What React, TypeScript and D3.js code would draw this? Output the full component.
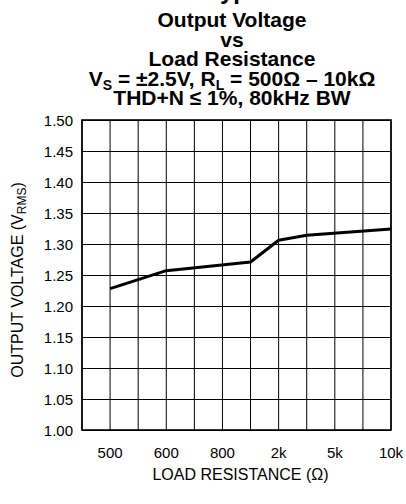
import React, { useEffect, useRef } from "react";
import * as d3 from "d3";

// x axis is a fixed slot grid (not truly log), labels only on some slots
const loadSlots = ["450", "500", "550", "600", "700", "800", "1k", "2k", "3k", "5k", "7k", "10k"];
const tickLabels = ["500", "600", "800", "2k", "5k", "10k"];
const yTicks = [1.0, 1.05, 1.1, 1.15, 1.2, 1.25, 1.3, 1.35, 1.4, 1.45, 1.5];

// measured curve
const loads = ["500", "600", "1k", "2k", "3k", "10k"];
const vout = [1.228, 1.257, 1.271, 1.306, 1.314, 1.324];

const W = 406;
const H = 504;
const margin = { top: 120, right: 15, bottom: 74, left: 82 };
const font = "'Liberation Sans', Arial, sans-serif";

const App = () => {
  const ref = useRef<SVGSVGElement>(null);

  useEffect(() => {
    if (!ref.current) return;
    const svg = d3.select(ref.current);
    svg.selectAll("*").remove();

    const x = d3
      .scalePoint<string>()
      .domain(loadSlots)
      .range([margin.left, W - margin.right]);
    const y = d3
      .scaleLinear()
      .domain([1.0, 1.5])
      .range([H - margin.bottom, margin.top]);

    const [x0, x1] = x.range();
    const [y0, y1] = y.range();

    // titles
    const title = svg
      .append("g")
      .attr("font-family", font)
      .attr("font-weight", "bold")
      .attr("text-anchor", "middle")
      .attr("font-size", 21);

    // page heading, mostly cut off by the top edge
    svg
      .append("text")
      .attr("x", 207)
      .attr("y", -1)
      .attr("font-family", font)
      .attr("font-weight", "bold")
      .attr("font-size", 24)
      .text("Typical Characteristics");

    const cx = 232;
    title.append("text").attr("x", cx).attr("y", 27).text("Output Voltage");
    title.append("text").attr("x", cx).attr("y", 46.5).text("vs");
    title.append("text").attr("x", cx).attr("y", 66).text("Load Resistance");
    const l4 = title.append("text").attr("x", cx).attr("y", 85.5);
    l4.append("tspan").text("V");
    l4.append("tspan").attr("font-size", 14).attr("dy", 4).text("S");
    l4.append("tspan").attr("dy", -4).text(" = ±2.5V, R");
    l4.append("tspan").attr("font-size", 14).attr("dy", 4).text("L");
    l4.append("tspan").attr("dy", -4).text(" = 500Ω – 10kΩ");
    title.append("text").attr("x", cx).attr("y", 105).text("THD+N ≤ 1%, 80kHz BW");

    // grid
    const grid = svg.append("g").attr("stroke", "#000").attr("stroke-width", 1);
    grid
      .selectAll("line.h")
      .data(yTicks)
      .join("line")
      .attr("class", "h")
      .attr("x1", x0)
      .attr("x2", x1)
      .attr("y1", (d) => Math.round(y(d)) + 0.5)
      .attr("y2", (d) => Math.round(y(d)) + 0.5);
    grid
      .selectAll("line.v")
      .data(loadSlots)
      .join("line")
      .attr("class", "v")
      .attr("x1", (d) => x(d)!)
      .attr("x2", (d) => x(d)!)
      .attr("y1", y1)
      .attr("y2", y0);

    svg
      .append("rect")
      .attr("x", x0)
      .attr("y", y1)
      .attr("width", x1 - x0)
      .attr("height", y0 - y1)
      .attr("fill", "none")
      .attr("stroke", "#000")
      .attr("stroke-width", 1.6);

    // tick labels
    svg
      .append("g")
      .attr("font-family", font)
      .attr("font-size", 15)
      .attr("text-anchor", "end")
      .selectAll("text")
      .data(yTicks)
      .join("text")
      .attr("x", x0 - 9)
      .attr("y", (d) => y(d) + 5.5)
      .text((d) => d3.format(".2f")(d));

    svg
      .append("g")
      .attr("font-family", font)
      .attr("font-size", 15)
      .attr("text-anchor", "middle")
      .selectAll("text")
      .data(tickLabels)
      .join("text")
      .attr("x", (d) => x(d)!)
      .attr("y", y0 + 28)
      .text((d) => d);

    // axis titles
    svg
      .append("text")
      .attr("x", (x0 + x1) / 2 + 4)
      .attr("y", 480)
      .attr("font-family", font)
      .attr("font-size", 16)
      .attr("text-anchor", "middle")
      .text("LOAD RESISTANCE (Ω)");

    const yt = svg
      .append("text")
      .attr("transform", `translate(23, 280) rotate(-90)`)
      .attr("font-family", font)
      .attr("font-size", 16)
      .attr("text-anchor", "middle");
    yt.append("tspan").text("OUTPUT VOLTAGE (V");
    yt.append("tspan").attr("font-size", 12).attr("dy", 3).text("RMS");
    yt.append("tspan").attr("dy", -3).text(")");

    // curve
    const pts = loads.map((l, i) => [x(l)!, y(vout[i])] as [number, number]);
    svg
      .append("path")
      .attr("d", d3.line()(pts))
      .attr("fill", "none")
      .attr("stroke", "#000")
      .attr("stroke-width", 3)
      .attr("stroke-linejoin", "round");
  }, []);

  return (
    <svg
      ref={ref}
      width={W}
      height={H}
      style={{ position: "absolute", left: 0, top: 0, background: "#fff" }}
    />
  );
};

export default App;
